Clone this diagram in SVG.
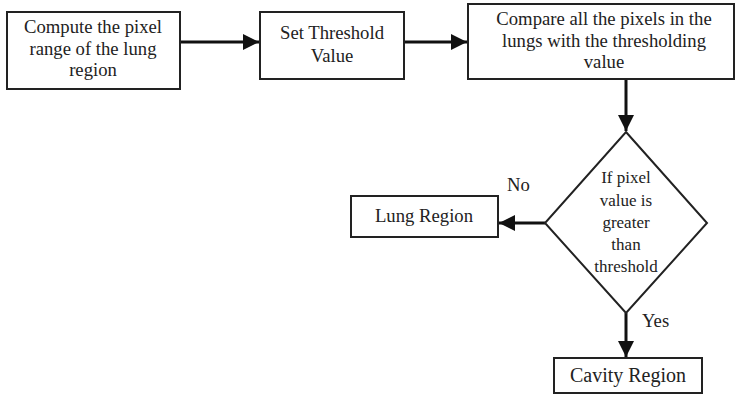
<svg xmlns="http://www.w3.org/2000/svg" width="737" height="394" viewBox="0 0 737 394">
  <style>
    .box { fill: #ffffff; stroke: #222222; stroke-width: 2; }
    .label { font-family: 'Liberation Serif', 'Times New Roman', Times, 'DejaVu Serif', serif; font-size: 18.7px; fill: #222222; text-anchor: middle; }
    .small { font-size: 17px; }
    .large { font-size: 20px; }
    .side { text-anchor: start; }
    .edge { stroke: #111111; stroke-width: 3; fill: none; marker-end: url(#arrow); }
  </style>
  <defs>
    <marker id="arrow" viewBox="0 0 10 10" refX="10" refY="5" markerWidth="16" markerHeight="16" markerUnits="userSpaceOnUse" orient="auto">
      <path d="M0,0 L10,5 L0,10 Z" fill="#111111"/>
    </marker>
  </defs>
  <rect width="737" height="394" fill="#ffffff"/>

  <g id="connectors">
    <line class="edge" x1="180" y1="42" x2="259" y2="42"/>
    <line class="edge" x1="404" y1="42" x2="467" y2="42"/>
    <line class="edge" x1="626" y1="79" x2="626" y2="131"/>
    <line class="edge" x1="545" y1="223" x2="499" y2="223"/>
    <line class="edge" x1="626" y1="313" x2="626" y2="357"/>
    <text class="label side" x="507" y="191">No</text>
    <text class="label side" x="642" y="327">Yes</text>
  </g>

  <g id="compute-range">
    <rect class="box" x="7" y="12" width="173" height="77"/>
    <text class="label" x="93" y="33">Compute the pixel</text>
    <text class="label" x="93" y="55">range of the lung</text>
    <text class="label" x="93" y="76">region</text>
  </g>

  <g id="set-threshold">
    <rect class="box" x="260" y="12" width="144" height="67"/>
    <text class="label" x="332" y="39">Set Threshold</text>
    <text class="label" x="332" y="62">Value</text>
  </g>

  <g id="compare-pixels">
    <rect class="box" x="468" y="4" width="266" height="75"/>
    <text class="label" x="604" y="25">Compare all the pixels in the</text>
    <text class="label" x="604" y="47">lungs with the thresholding</text>
    <text class="label" x="604" y="68">value</text>
  </g>

  <g id="decision">
    <polygon class="box" points="626,132 707,223 626,313 545,223"/>
    <text class="label small" x="626" y="183">If pixel</text>
    <text class="label small" x="626" y="206">value is</text>
    <text class="label small" x="626" y="228">greater</text>
    <text class="label small" x="626" y="250">than</text>
    <text class="label small" x="626" y="272">threshold</text>
  </g>

  <g id="lung-region">
    <rect class="box" x="351" y="196" width="147" height="41"/>
    <text class="label" x="424" y="222">Lung Region</text>
  </g>

  <g id="cavity-region">
    <rect class="box" x="554" y="358" width="148" height="35"/>
    <text class="label large" x="628" y="382">Cavity Region</text>
  </g>
</svg>
